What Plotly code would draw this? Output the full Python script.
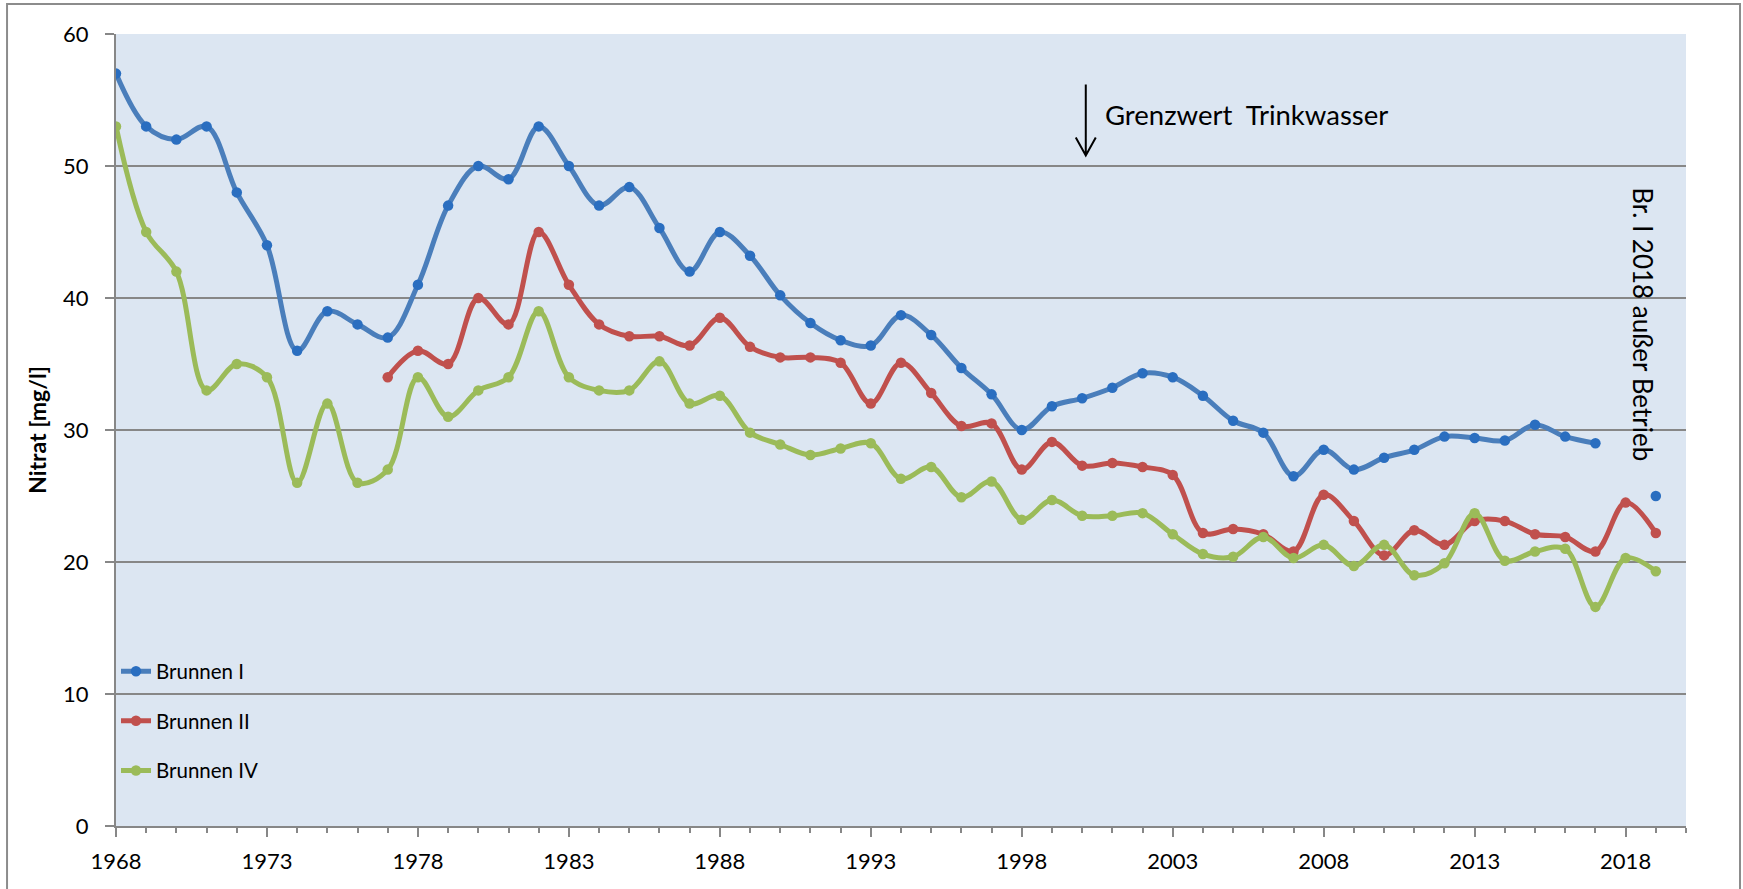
import plotly.graph_objects as go

years = list(range(1968, 2020))

brunnen_1 = [57, 53, 52, 53, 48, 44, 36, 39, 38, 37,
             41, 47, 50, 49, 53, 50, 47, 48.4, 45.3, 42,
             45, 43.2, 40.2, 38.1, 36.8, 36.4, 38.7, 37.2, 34.7, 32.7,
             30, 31.8, 32.4, 33.2, 34.3, 34.0, 32.6, 30.7, 29.8, 26.5,
             28.5, 27.0, 27.9, 28.5, 29.5, 29.4, 29.2, 30.4, 29.5, 29.0,
             None, 25.0]

brunnen_2 = [None] * 9 + [34,
             36, 35, 40, 38, 45, 41, 38, 37.1, 37.1, 36.4,
             38.5, 36.3, 35.5, 35.5, 35.1, 32.0, 35.1, 32.8, 30.3, 30.5,
             27.0, 29.1, 27.3, 27.5, 27.2, 26.6, 22.2, 22.5, 22.1, 20.8,
             25.1, 23.1, 20.5, 22.4, 21.3, 23.1, 23.1, 22.1, 21.9, 20.8,
             24.5, 22.2]

brunnen_4 = [53, 45, 42, 33, 35, 34, 26, 32, 26, 27,
             34, 31, 33, 34, 39, 34, 33, 33, 35.2, 32,
             32.6, 29.8, 28.9, 28.1, 28.6, 29.0, 26.3, 27.2, 24.9, 26.1,
             23.2, 24.7, 23.5, 23.5, 23.7, 22.1, 20.6, 20.4, 21.9, 20.3,
             21.3, 19.7, 21.3, 19.0, 19.9, 23.7, 20.1, 20.8, 21.0, 16.6,
             20.3, 19.3]

series_names = ["Brunnen I", "Brunnen II", "Brunnen IV"]
series_values = [brunnen_1, brunnen_2, brunnen_4]
line_colors = ["#4A7EBB", "#C0504D", "#9BBB59"]
marker_colors = ["#2A6EC0", "#C0504D", "#9BBB59"]

FONT = "Lato, 'Open Sans', sans-serif"
GRID = "#878787"

fig = go.Figure()
for i, (name, vals) in enumerate(zip(series_names, series_values)):
    fig.add_trace(go.Scatter(
        x=years, y=vals, name=name, mode="lines+markers",
        line=dict(color=line_colors[i], width=5, shape="spline", smoothing=1.0),
        marker=dict(color=marker_colors[i], size=10.5),
        connectgaps=False, legendgroup=name,
    ))

fig.update_layout(
    width=1743, height=889,
    margin=dict(l=116, r=57, t=34, b=63),
    paper_bgcolor="white",
    plot_bgcolor="#DCE6F2",
    font=dict(family=FONT, color="#000000"),
    showlegend=True,
    legend=dict(x=0.0, y=0.045, xanchor="left", yanchor="bottom",
                bgcolor="rgba(0,0,0,0)", font=dict(size=20.5, family=FONT),
                tracegroupgap=20, itemwidth=30),
    xaxis=dict(
        range=[1968, 2020], tick0=1968, dtick=5,
        ticks="outside", ticklen=9, tickwidth=1.5, tickcolor=GRID,
        showline=True, linecolor=GRID, linewidth=2,
        showgrid=False, zeroline=False,
        tickfont=dict(size=22, family=FONT),
        ticklabelstandoff=6,
        minor=dict(dtick=1, ticks="outside", ticklen=5, tickwidth=1.5,
                   tickcolor=GRID, showgrid=False),
    ),
    yaxis=dict(
        range=[0, 60], dtick=10,
        ticks="outside", ticklen=9, tickwidth=1.5, tickcolor=GRID,
        showline=True, linecolor=GRID, linewidth=2,
        showgrid=True, gridcolor=GRID, gridwidth=2, zeroline=False,
        tickfont=dict(size=22, family=FONT),
        ticklabelstandoff=12,
        title=dict(text="<b>Nitrat [mg/l]</b>", font=dict(size=23, family=FONT),
                   standoff=10),
    ),
)

# outer chart border
fig.add_shape(type="rect", xref="paper", yref="paper",
              x0=-0.0694, x1=1.0344, y0=-0.2, y1=1.0378,
              line=dict(color="#8C8C8C", width=2), fillcolor="rgba(0,0,0,0)",
              layer="below")

# arrow "Grenzwert Trinkwasser"
fig.add_shape(type="path", xref="x", yref="y",
              xsizemode="pixel", ysizemode="pixel",
              xanchor=2000.12, yanchor=50.8,
              path="M0,71 L0,0 M-10,18 L0,0 L10,18",
              line=dict(color="black", width=2))

fig.add_annotation(x=2000.7, y=53.9, xref="x", yref="y",
                   text="Grenzwert\u00a0 Trinkwasser", showarrow=False,
                   xanchor="left", yanchor="middle",
                   font=dict(size=27.5, family=FONT, color="black"))

fig.add_annotation(x=2018.55, y=38.0, xref="x", yref="y",
                   text="Br. I 2018 außer Betrieb", showarrow=False,
                   textangle=90, xanchor="center", yanchor="middle",
                   font=dict(size=26, family=FONT, color="black"))

fig.write_html("out.html", config={"displayModeBar": False},
               post_script="document.body.style.margin='0';")
